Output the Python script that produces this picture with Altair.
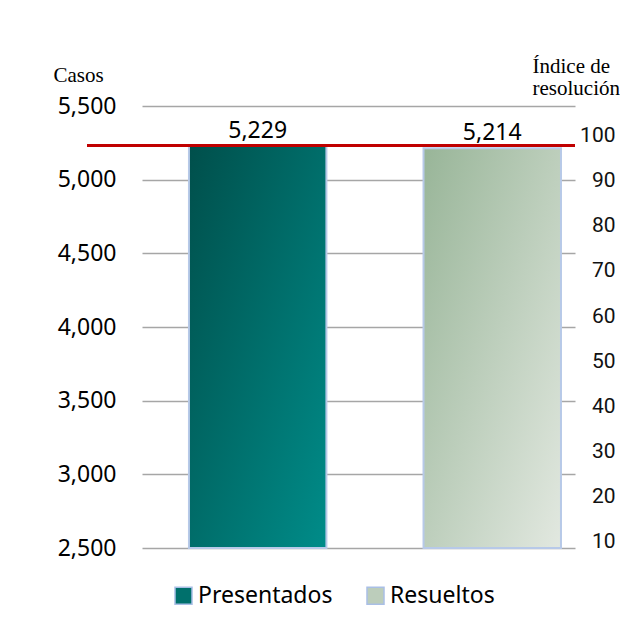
import altair as alt
import pandas as pd

# ---- data ----
series = ["Presentados", "Resueltos"]
casos = [5229, 5214]
indice_resolucion = [97.8]          # red line, read on the right axis
casos_ticks = [2500, 3000, 3500, 4000, 4500, 5000, 5500]
indice_ticks = [10, 20, 30, 40, 50, 60, 70, 80, 90, 100]

# ---- styles ----
legend_colors = ["#00706c", "#bccdbb"]
grad_pres = {"gradient": "linear", "x1": 0, "y1": 0, "x2": 1, "y2": 1,
             "stops": [{"offset": 0, "color": "#004f4b"}, {"offset": 1, "color": "#008c89"}]}
grad_res = {"gradient": "linear", "x1": 0, "y1": 0, "x2": 1, "y2": 1,
            "stops": [{"offset": 0, "color": "#98b598"}, {"offset": 1, "color": "#e2e8e0"}]}

df = pd.DataFrame({"Serie": series, "Casos": casos})
df_idx = pd.DataFrame({"Indice": indice_resolucion})

x_enc = alt.X("Serie:N", sort=series, axis=None,
              scale=alt.Scale(paddingInner=0.414, paddingOuter=0.13, align=0.77))


def left_scale():
    return alt.Scale(domain=[2500, 5500], zero=False, nice=False)


y_left_axis = alt.Y(
    "Casos:Q",
    scale=left_scale(),
    axis=alt.Axis(
        orient="left",
        values=casos_ticks, labelExpr="format(datum.value, ',')", grid=True,
        gridColor="#a6a6a6", gridWidth=1.3,
        domain=False, ticks=False, labelPadding=26, labelFont="Noto Sans",
        labelFontSize=23, labelColor="black",
        title="Casos", titleAngle=0, titleAlign="left", titleBaseline="alphabetic",
        titleX=-89, titleY=-25, titleFont="Liberation Serif", titleFontSize=21,
        titleFontWeight="normal", titleColor="black",
    ),
)

base = alt.Chart(df).mark_bar().encode(
    x=x_enc,
    y=y_left_axis,
    y2=alt.datum(2500),
    color=alt.Color(
        "Serie:N", sort=series,
        scale=alt.Scale(domain=series, range=legend_colors),
        legend=alt.Legend(
            title=None, orient="none", legendX=30, legendY=478, direction="horizontal",
            symbolType="square", symbolSize=289, symbolStrokeColor="#a9bfe6",
            symbolStrokeWidth=1.5, labelFont="Noto Sans", labelFontSize=23,
            labelColor="black", labelOffset=3, columnPadding=31, padding=0,
        ),
    ),
)

overlay = alt.Chart(df).mark_bar(stroke="#b7c9e8", strokeWidth=2).encode(
    x=x_enc,
    y=alt.Y("Casos:Q", scale=left_scale(), axis=None),
    y2=alt.datum(2500),
    fill=alt.condition(alt.datum.Serie == "Presentados", alt.value(grad_pres), alt.value(grad_res)),
)

labels = alt.Chart(df).mark_text(
    dy=-8, baseline="alphabetic", font="Noto Sans", fontSize=23, color="black"
).encode(
    x=x_enc,
    y=alt.Y("Casos:Q", scale=left_scale(), axis=None),
    text=alt.Text("Casos:Q", format=","),
)

rule = alt.Chart(df_idx).mark_rule(color="#c00000", strokeWidth=3).encode(
    x=alt.value(-55),
    x2=alt.value(433),
    y=alt.Y(
        "Indice:Q",
        scale=alt.Scale(domain=[8.67, 106.53], zero=False, nice=False),
        axis=alt.Axis(
            orient="right", values=indice_ticks, grid=False, domain=False, ticks=False,
            tickSize=0, labelAlign="right", labelPadding=40,
            labelFont="Liberation Sans Narrow, Roboto, sans-serif",
            labelFontSize=21, labelColor="#111111",
            title=["Índice de", "resolución"], titleAngle=0, titleAlign="left",
            titleBaseline="alphabetic", titleX=-43, titleY=-34,
            titleFont="Liberation Serif", titleFontSize=21, titleFontWeight="normal",
            titleLineHeight=22.5, titleColor="black",
        ),
    ),
)

chart = (
    alt.layer(base, overlay, labels, rule)
    .resolve_scale(y="independent")
    .properties(
        width=433, height=442,
        autosize=alt.AutoSizeParams(type="none"),
        padding={"left": 134, "top": 98, "right": 45, "bottom": 81},
    )
    .configure_view(stroke=None)
)

chart.save("out.html", embed_options={"renderer": "svg", "actions": False})
